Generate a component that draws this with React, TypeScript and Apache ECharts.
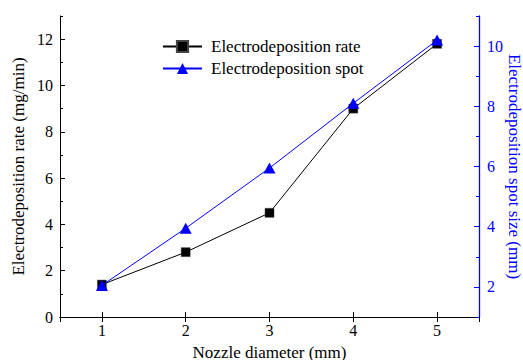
import React, { useEffect, useRef } from "react";
import * as echarts from "echarts";

const nozzle = [1, 2, 3, 4, 5];
const rate = [1.4, 2.8, 4.5, 9.0, 11.8];
const spot = [2.05, 3.95, 5.95, 8.1, 10.2];
const seriesNames = ["Electrodeposition rate", "Electrodeposition spot"];
const xTitle = "Nozzle diameter (mm)";
const yLeftTitle = "Electrodeposition rate (mg/min)";
const yRightTitle = "Electrodeposition spot size (mm)";

const FONT = "'Liberation Serif', 'Times New Roman', serif";
const BLUE = "#0000ff";

export default function App() {
  const ref = useRef<HTMLDivElement>(null);
  useEffect(() => {
    if (!ref.current) return;
    const chart = echarts.init(ref.current, null, { renderer: "svg" });
    const intLabel = (v: number) => (Number.isInteger(v) ? String(v) : "");
    const evenLabel = (v: number) => (Number.isInteger(v) && v % 2 === 0 ? String(v) : "");
    chart.setOption({
      animation: false,
      backgroundColor: "#ffffff",
      textStyle: { fontFamily: FONT },
      grid: { left: 60, right: 44, top: 16, bottom: 43, containLabel: false, outerBoundsMode: "none" },
      legend: {
        orient: "vertical",
        left: 157,
        top: 33,
        itemWidth: 39,
        itemHeight: 14,
        itemGap: 5,
        textStyle: { fontFamily: FONT, fontSize: 17, color: "#000", padding: [0, 0, 0, 4] },
        data: seriesNames,
      },
      xAxis: [
        {
          type: "value",
          position: "bottom",
          min: 0.5,
          max: 5.5,
          splitNumber: 5,
          name: xTitle,
          nameLocation: "middle",
          nameGap: 27,
          nameMoveOverlap: false,
          nameTextStyle: { fontFamily: FONT, fontSize: 17, color: "#000" },
          axisLine: { show: true, lineStyle: { color: "#000", width: 1 } },
          axisTick: { show: true, inside: true, length: 5, lineStyle: { color: "#000" } },
          axisLabel: { fontFamily: FONT, fontSize: 16, color: "#000", margin: 5, formatter: intLabel, showMinLabel: false, showMaxLabel: false },
          splitLine: { show: false },
        },
        {
          type: "value",
          position: "top",
          min: 0.5,
          max: 5.5,
          splitNumber: 5,
          axisLine: { show: true, lineStyle: { color: "#000", width: 1 } },
          axisTick: { show: true, inside: true, length: 5, lineStyle: { color: "#000" } },
          axisLabel: { show: false },
          splitLine: { show: false },
        },
      ],
      yAxis: [
        {
          type: "value",
          position: "left",
          min: 0,
          max: 13,
          interval: 2,
          name: yLeftTitle,
          nameLocation: "middle",
          nameGap: 33,
          nameMoveOverlap: false,
          nameTextStyle: { fontFamily: FONT, fontSize: 17, color: "#000" },
          axisLine: { show: true, lineStyle: { color: "#000", width: 1 } },
          axisTick: { show: true, inside: true, length: 5, lineStyle: { color: "#000" } },
          axisLabel: { fontFamily: FONT, fontSize: 16, color: "#000", margin: 7, formatter: evenLabel, showMaxLabel: false },
          splitLine: { show: false },
        },
        {
          type: "value",
          position: "right",
          min: 1,
          max: 11,
          splitNumber: 5,
          name: yRightTitle,
          nameLocation: "middle",
          nameGap: 27,
          nameRotate: -90,
          nameMoveOverlap: false,
          nameTextStyle: { fontFamily: FONT, fontSize: 17, color: BLUE },
          axisLine: { show: true, lineStyle: { color: BLUE, width: 1.3 } },
          axisTick: { show: true, inside: true, length: 5, lineStyle: { color: BLUE } },
          axisLabel: { fontFamily: FONT, fontSize: 16, color: BLUE, margin: 8, formatter: evenLabel, showMinLabel: false, showMaxLabel: false },
          splitLine: { show: false },
        },
        {
          type: "value",
          position: "left",
          min: 0,
          max: 13,
          interval: 1,
          axisLine: { show: false },
          axisTick: { show: true, inside: true, length: 3, lineStyle: { color: "#000" } },
          axisLabel: { show: false },
          splitLine: { show: false },
        },
        {
          type: "value",
          position: "right",
          min: 1,
          max: 11,
          interval: 1,
          axisLine: { show: false },
          axisTick: { show: true, inside: true, length: 3, lineStyle: { color: BLUE } },
          axisLabel: { show: false },
          splitLine: { show: false },
        },
      ],
      series: [
        {
          name: seriesNames[0],
          type: "line",
          xAxisIndex: 0,
          yAxisIndex: 0,
          data: nozzle.map((x, i) => [x, rate[i]]),
          symbol: "rect",
          symbolSize: 9,
          lineStyle: { color: "#000", width: 1 },
          itemStyle: { color: "#000", borderColor: "#444", borderWidth: 0.5 },
          z: 3,
        },
        {
          name: seriesNames[1],
          type: "line",
          xAxisIndex: 0,
          yAxisIndex: 1,
          data: nozzle.map((x, i) => [x, spot[i]]),
          symbol: "triangle",
          symbolSize: [12, 11],
          lineStyle: { color: BLUE, width: 1 },
          itemStyle: { color: BLUE },
          z: 4,
        },
      ],
    });
    return () => chart.dispose();
  }, []);
  return (
    <div
      ref={ref}
      style={{ position: "fixed", left: 0, top: 0, width: 523, height: 360, background: "#fff" }}
    />
  );
}
